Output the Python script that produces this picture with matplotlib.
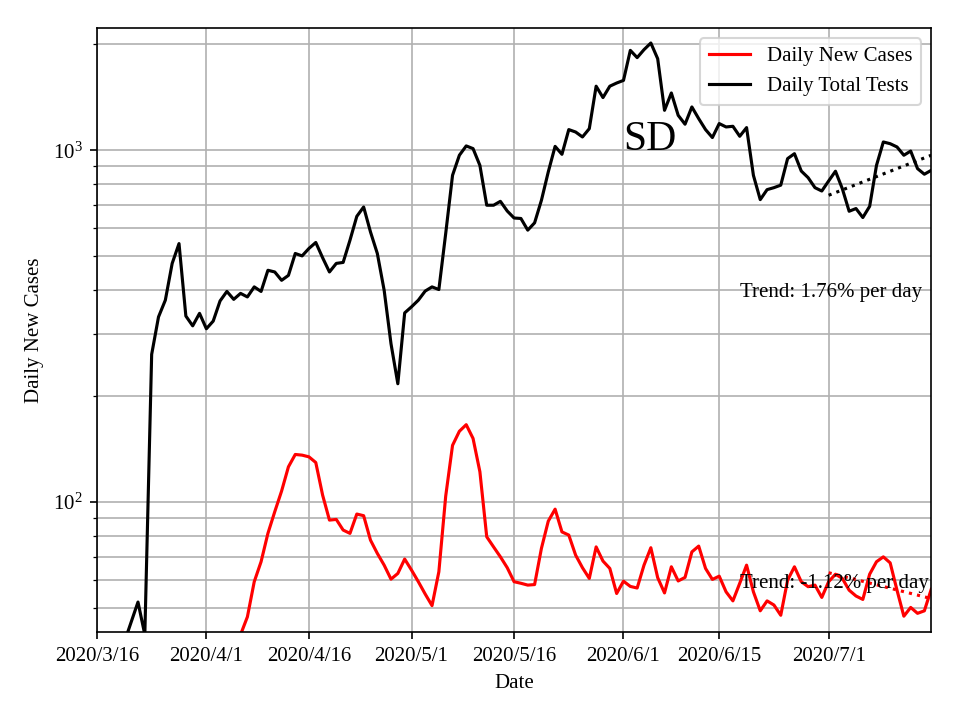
import numpy as np
import pandas as pd
import matplotlib
matplotlib.use("Agg")
import matplotlib.pyplot as plt
import matplotlib.dates as mdates
from matplotlib.ticker import FixedLocator, FixedFormatter

plt.rcParams['font.family'] = ['Liberation Serif', 'DejaVu Serif']
plt.rcParams['mathtext.fontset'] = 'stix'

# daily total tests, starting 2020/3/20
tests_start = '2020-03-20'
tests = [40, 45.6, 52, 42, 263, 336, 375, 477, 543, 338, 317, 344, 311, 327,
         373, 397, 377, 392, 383, 409, 397, 456, 451, 427, 441, 509, 501, 526,
         547, 495, 451, 477, 480, 555, 649, 690, 586, 509, 400, 282, 217, 345,
         359, 375, 398, 409, 402, 580, 849, 968, 1029, 1011, 906, 698, 698, 716,
         672, 642, 640, 593, 622, 721, 868, 1026, 974, 1145, 1127, 1091, 1152,
         1521, 1412, 1521, 1553, 1580, 1923, 1834, 1932, 2018, 1821, 1299, 1455,
         1257, 1186, 1328, 1230, 1145, 1087, 1191, 1165, 1170, 1096, 1160, 849,
         724, 773, 783, 796, 947, 978, 873, 836, 783, 766, 818, 872, 778, 671,
         683, 644, 693, 906, 1056, 1044, 1022, 968, 995, 887, 855, 877]

# daily new cases, starting 2020/4/6
cases_start = '2020-04-06'
cases = [42, 47.2, 59.4, 67.7, 81.5, 93.9, 107.5, 126, 136.6, 136, 134.5, 129.6,
         104.7, 88.9, 89.3, 83.3, 81.5, 92.5, 91.5, 78, 71.5, 66.2, 60.4, 62.7,
         68.9, 64.1, 59.4, 54.8, 50.8, 63.4, 104, 145, 159, 166, 151.7, 122,
         79.7, 74.6, 69.9, 65.1, 59.4, 58.8, 58.1, 58.3, 73.9, 88.3, 95.5, 82.3,
         80.6, 70.7, 65.1, 60.7, 74.6, 68, 64.8, 55, 59.6, 57.6, 57, 66.2, 74.2,
         61, 55.2, 65.5, 59.7, 61.1, 72.2, 75, 64.8, 60.3, 61.6, 55.6, 52.4,
         58.8, 66.2, 55.6, 49.1, 52.4, 51, 47.7, 60, 65.5, 59.4, 57.5, 58.1,
         53.6, 59.4, 62.4, 60.7, 56.2, 54.1, 52.9, 62.4, 67.7, 69.9, 67.2, 56.2,
         47.4, 50.2, 48.3, 49.1, 56.5]

# trend fits over the last two weeks
trend_dates = ['2020-07-01', '2020-07-16']
tests_trend = [745, 968]
cases_trend = [63.0, 53.2]

tick_dates = ['2020-03-16', '2020-04-01', '2020-04-16', '2020-05-01',
              '2020-05-16', '2020-06-01', '2020-06-15', '2020-07-01']

tests_dates = pd.date_range(tests_start, periods=len(tests), freq='D')
cases_dates = pd.date_range(cases_start, periods=len(cases), freq='D')
tdates = pd.to_datetime(trend_dates)

fig, ax = plt.subplots(figsize=(6.4, 4.8), dpi=150)
fig.subplots_adjust(left=0.101, right=0.970, bottom=0.122, top=0.961)

ax.plot(cases_dates, cases, color='red', label='Daily New Cases')
ax.plot(tests_dates, tests, color='black', label='Daily Total Tests')
ax.plot(tdates, tests_trend, 'k:')
ax.plot(tdates, cases_trend, 'r:')

ax.set_yscale('log')
ax.set_ylim(42.7, 2225)
ax.set_xlim(pd.Timestamp('2020-03-16'), pd.Timestamp('2020-07-16'))

ticks = pd.to_datetime(tick_dates)
ax.xaxis.set_major_locator(FixedLocator(mdates.date2num(ticks)))
ax.xaxis.set_major_formatter(FixedFormatter([f"{d.year}/{d.month}/{d.day}" for d in ticks]))

ax.grid(True, which='both', color='#b0b0b0')
ax.set_xlabel('Date')
ax.set_ylabel('Daily New Cases')

ax.text(pd.Timestamp('2020-06-01'), 1000, 'SD', fontsize=20)
ax.text(pd.Timestamp('2020-06-18'), 384, 'Trend: 1.76% per day', fontsize=10)
ax.text(pd.Timestamp('2020-06-18'), 57, 'Trend: -1.12% per day', fontsize=10)

ax.legend(loc='upper right')

fig.savefig('out.png')
